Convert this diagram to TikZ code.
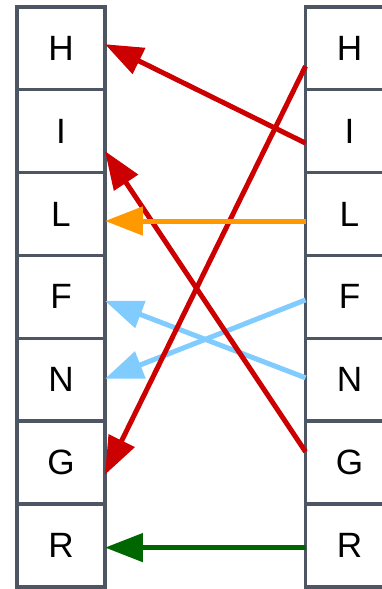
\documentclass[tikz,border=0pt]{standalone}
\usepackage{fontspec}
\setmainfont{Liberation Sans}
\usetikzlibrary{arrows.meta,calc}
\definecolor{boxgray}{HTML}{4F5663}
\definecolor{linkred}{HTML}{CC0000}
\definecolor{linkorange}{HTML}{FF9900}
\definecolor{linkblue}{HTML}{80CCFF}
\definecolor{linkgreen}{HTML}{006600}

\begin{document}
\begin{tikzpicture}[x=0.02cm, y=-0.02cm,
  cell/.style={draw=boxgray, line width=0.072cm, minimum width=1.76cm, minimum height=1.658cm, inner sep=0pt, outer sep=0pt, font=\fontsize{20}{24}\selectfont},
  arr/.style={-{Triangle[length=0.76cm, width=0.56cm]}, line width=0.1cm}]
  \useasboundingbox (0,0) rectangle (382,589);
  % left column
  \node[cell] (lH) at (61,48.2) {H};
  \node[cell] (lI) at (61,131.1) {I};
  \node[cell] (lL) at (61,214.0) {L};
  \node[cell] (lF) at (61,296.9) {F};
  \node[cell] (lN) at (61,379.8) {N};
  \node[cell] (lG) at (61,462.7) {G};
  \node[cell] (lR) at (61,545.6) {R};
  % right column
  \node[cell] (rH) at (349.5,48.2) {H};
  \node[cell] (rI) at (349.5,131.1) {I};
  \node[cell] (rL) at (349.5,214.0) {L};
  \node[cell] (rF) at (349.5,296.9) {F};
  \node[cell] (rN) at (349.5,379.8) {N};
  \node[cell] (rG) at (349.5,462.7) {G};
  \node[cell] (rR) at (349.5,545.6) {R};

  \draw[arr, linkblue] ($(rF.west)+(0,3)$) -- ($(lN.east)+(0,-1)$);
  \draw[arr, linkblue] ($(rN.west)+(0,-2)$) -- ($(lF.east)+(0,4)$);
  \draw[arr, linkred] ($(rI.west)+(0,12)$) -- ($(lH.east)+(0,-4)$);
  \draw[arr, linkred] ($(rH.west)+(0,18)$) -- ($(lG.east)+(0,12)$);
  \draw[arr, linkred] ($(rG.west)+(0,-11)$) -- ($(lI.east)+(0,20)$);
  \draw[arr, linkorange] ($(rL.west)+(0,7)$) -- ($(lL.east)+(0,7)$);
  \draw[arr, linkgreen] ($(rR.west)+(0,2)$) -- ($(lR.east)+(0,2)$);
\end{tikzpicture}
\end{document}
